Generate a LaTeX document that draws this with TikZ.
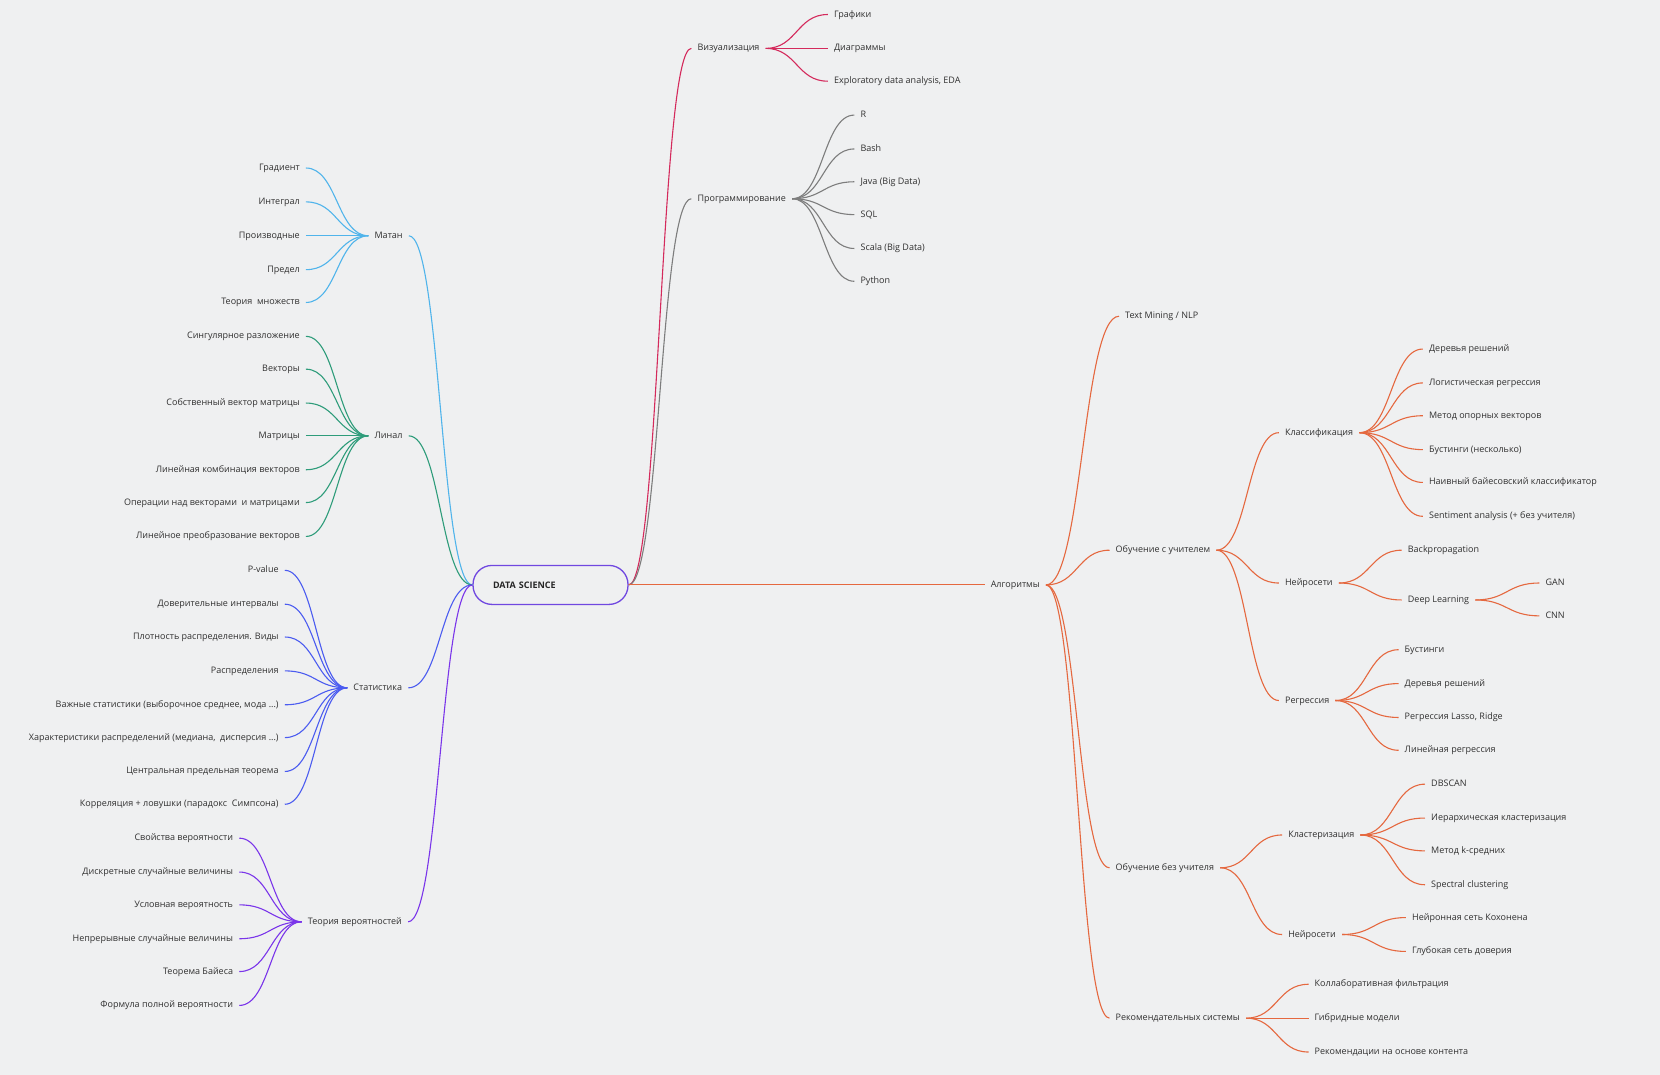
\documentclass[tikz,border=0pt]{standalone}
\usepackage{fontspec}
\setmainfont{Open Sans}
\usepackage{tikz}
\usetikzlibrary{shapes.geometric, arrows, positioning, calc}

\definecolor{bgc}{HTML}{EFF0F1}
\definecolor{txtc}{HTML}{303030}
\definecolor{rootc}{HTML}{7048E0}
\definecolor{matc}{HTML}{50B4EB}
\definecolor{linc}{HTML}{2E9C7A}
\definecolor{statc}{HTML}{4B5CF0}
\definecolor{probc}{HTML}{7A35EA}
\definecolor{vizc}{HTML}{D42A5C}
\definecolor{progc}{HTML}{7D7D7D}
\definecolor{algc}{HTML}{E5683F}

\newcommand{\mapfont}{\fontsize{9pt}{11pt}\selectfont}
% curved connector, horizontal at both ends
\newcommand{\branch}[3]{\draw[link, #1] let \p1=(#2), \p2=(#3) in (\p1) .. controls ({(\x1+\x2)/2},\y1) and ({(\x1+\x2)/2},\y2) .. (\p2);}

\tikzset{
  topic/.style={font=\mapfont, text=txtc, inner xsep=6pt, inner ysep=2pt, text height=7pt, text depth=2pt, yshift=-1.8pt},
  link/.style={line width=1.1pt},
  rootbox/.style={draw=rootc, line width=1.3pt, rounded corners=19pt, minimum height=39pt, text width=115pt, inner xsep=20pt, align=left, font=\fontsize{9pt}{11pt}\selectfont\bfseries, text=black!85}
}

\begin{document}
\begin{tikzpicture}[x=1.0587pt, y=-1.0587pt]
\fill[bgc] (0,0) rectangle (1568,1015.4);
\useasboundingbox (0,0) rectangle (1568,1015.4);

% Root
\node[rootbox] (ds) at (520,552.5) {DATA SCIENCE};

% Matan
\node[topic, anchor=west] (matan) at (348,221) {Матан};
\branch{matc}{ds.west}{matan.east}
\foreach \y/\t [count=\i] in {157/Градиент, 189/Интеграл, 221/Производные, 253/Предел, 284/Теория~~множеств} {
  \node[topic, anchor=east] (mat\i) at (289,\y) {\t};
  \branch{matc}{mat\i.east}{matan.west}
}

% Linal
\node[topic, anchor=west] (linal) at (348,410) {Линал};
\branch{linc}{ds.west}{linal.east}
\foreach \y/\t [count=\i] in {316/Сингулярное разложение, 347/Векторы, 379/Собственный вектор матрицы, 410/Матрицы, 442/Линейная комбинация векторов, 473/Операции над векторами~~и матрицами, 505/Линейное преобразование векторов} {
  \node[topic, anchor=east] (lin\i) at (289,\y) {\t};
  \branch{linc}{lin\i.east}{linal.west}
}

% Statistics
\node[topic, anchor=west] (stat) at (328,648) {Статистика};
\branch{statc}{ds.west}{stat.east}
\foreach \y/\t [count=\i] in {537/P-value, 569/Доверительные интервалы, 600/Плотность распределения. Виды, 632/Распределения, 664/{Важные статистики (выборочное среднее, мода ...)}, 695/{Характеристики распределений (медиана,~~дисперсия ...)}, 727/Центральная предельная теорема, 758/Корреляция + ловушки (парадокс~~Симпсона)} {
  \node[topic, anchor=east] (st\i) at (269,\y) {\t};
  \branch{statc}{st\i.east}{stat.west}
}

% Probability
\node[topic, anchor=west] (prob) at (285,869) {Теория вероятностей};
\branch{probc}{ds.west}{prob.east}
\foreach \y/\t [count=\i] in {790/Свойства вероятности, 822/Дискретные случайные величины, 853/Условная вероятность, 885/Непрерывные случайные величины, 916/Теорема Байеса, 948/Формула полной вероятности} {
  \node[topic, anchor=east] (pr\i) at (226,\y) {\t};
  \branch{probc}{pr\i.east}{prob.west}
}

% Visualisation
\node[topic, anchor=west] (viz) at (653,44) {Визуализация};
\branch{vizc}{ds.east}{viz.west}
\foreach \y/\t [count=\i] in {12/Графики, 44/Диаграммы, 75/{Exploratory data analysis, EDA}} {
  \node[topic, anchor=west] (vz\i) at (782,\y) {\t};
  \branch{vizc}{viz.east}{vz\i.west}
}

% Programming
\node[topic, anchor=west] (prog) at (653,186) {Программирование};
\branch{progc}{ds.east}{prog.west}
\foreach \y/\t [count=\i] in {107/R, 139/Bash, 170/Java (Big Data), 201/SQL, 233/Scala (Big Data), 264/Python} {
  \node[topic, anchor=west] (pg\i) at (807,\y) {\t};
  \branch{progc}{prog.east}{pg\i.west}
}

% Algorithms
\node[topic, anchor=west, yshift=1.8pt] (alg) at (930,552.5) {Алгоритмы};
\branch{algc}{ds.east}{alg.west}
\node[topic, anchor=west] (nlp) at (1057,297) {Text Mining / NLP};
\node[topic, anchor=west] (sup) at (1048,518) {Обучение с учителем};
\node[topic, anchor=west] (unsup) at (1048,818) {Обучение без учителя};
\node[topic, anchor=west] (rec) at (1048,960) {Рекомендательных системы};
\foreach \nd in {nlp, sup, unsup, rec} {
  \branch{algc}{alg.east}{\nd.west}
}

% Supervised
\node[topic, anchor=west] (cls) at (1208,407) {Классификация};
\node[topic, anchor=west] (nns) at (1208,549) {Нейросети};
\node[topic, anchor=west] (reg) at (1208,660) {Регрессия};
\foreach \nd in {cls, nns, reg} {
  \branch{algc}{sup.east}{\nd.west}
}
\foreach \y/\t [count=\i] in {328/Деревья решений, 360/Логистическая регрессия, 391/Метод опорных векторов, 423/Бустинги (несколько), 454/Наивный байесовский классификатор, 486/Sentiment analysis (+ без учителя)} {
  \node[topic, anchor=west] (cl\i) at (1344,\y) {\t};
  \branch{algc}{cls.east}{cl\i.west}
}
\node[topic, anchor=west] (bp) at (1324,518) {Backpropagation};
\node[topic, anchor=west] (dl) at (1324,565) {Deep Learning};
\branch{algc}{nns.east}{bp.west}
\branch{algc}{nns.east}{dl.west}
\node[topic, anchor=west] (gan) at (1454,549) {GAN};
\node[topic, anchor=west] (cnn) at (1454,580) {CNN};
\branch{algc}{dl.east}{gan.west}
\branch{algc}{dl.east}{cnn.west}
\foreach \y/\t [count=\i] in {612/Бустинги, 644/Деревья решений, 676/{Регрессия Lasso, Ridge}, 707/Линейная регрессия} {
  \node[topic, anchor=west] (rg\i) at (1321,\y) {\t};
  \branch{algc}{reg.east}{rg\i.west}
}

% Unsupervised
\node[topic, anchor=west] (clu) at (1211,787) {Кластеризация};
\node[topic, anchor=west] (nnu) at (1211,881) {Нейросети};
\branch{algc}{unsup.east}{clu.west}
\branch{algc}{unsup.east}{nnu.west}
\foreach \y/\t [count=\i] in {739/DBSCAN, 771/Иерархическая кластеризация, 802/Метод k-средних, 834/Spectral clustering} {
  \node[topic, anchor=west] (cu\i) at (1346,\y) {\t};
  \branch{algc}{clu.east}{cu\i.west}
}
\foreach \y/\t [count=\i] in {865/Нейронная сеть Кохонена, 897/Глубокая сеть доверия} {
  \node[topic, anchor=west] (nu\i) at (1328,\y) {\t};
  \branch{algc}{nnu.east}{nu\i.west}
}

% Recommender systems
\foreach \y/\t [count=\i] in {928/Коллаборативная фильтрация, 960/Гибридные модели, 992/Рекомендации на основе контента} {
  \node[topic, anchor=west] (rc\i) at (1236,\y) {\t};
  \branch{algc}{rec.east}{rc\i.west}
}
\end{tikzpicture}
\end{document}
